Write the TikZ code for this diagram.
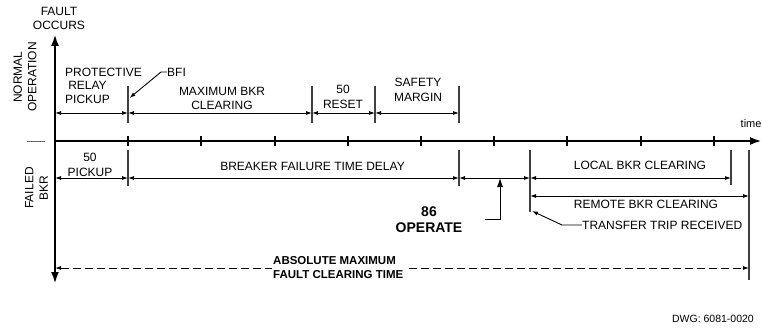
\documentclass[tikz,border=0pt]{standalone}
\usepackage{fontspec}
\setmainfont{Liberation Sans}
\usetikzlibrary{arrows.meta}
\begin{document}
\begin{tikzpicture}[x=1pt,y=-1pt,
  axisline/.style={line width=2.5pt,{Latex[length=12pt,width=8pt]}-{Latex[length=12pt,width=8pt]}},
  axisarrow/.style={line width=2.5pt,-{Latex[length=12pt,width=8pt]}},
  tickmark/.style={line width=1.1pt},
  dimline/.style={line width=0.9pt,{Latex[length=6pt,width=4pt]}-{Latex[length=6pt,width=4pt]}},
  dashdim/.style={line width=0.9pt,dash pattern=on 8pt off 4pt,{Latex[length=6pt,width=4pt]}-{Latex[length=6pt,width=4pt]}},
  extline/.style={line width=1.1pt,black!75},
  leader/.style={line width=0.9pt,-{Latex[length=6pt,width=4pt]}},
  bigleader/.style={line width=0.9pt,-{Latex[length=9pt,width=6pt]}},
  lbl/.style={font=\fontsize{12}{14.5}\selectfont,inner sep=0pt,align=center},
  boldlbl/.style={font=\fontsize{14}{16}\selectfont\bfseries,inner sep=0pt,align=center},
  abslbl/.style={font=\fontsize{11.5}{14}\selectfont\bfseries,inner sep=1.5pt,align=left,fill=white}
]
\useasboundingbox (0,0) rectangle (762,329);

% ---- axes
\coordinate (O) at (55,141);
\coordinate (Ytop) at (55,34);
\coordinate (Ybot) at (55,284);
\coordinate (Xend) at (762,141);
\draw[axisline] (Ybot) -- (Ytop);
\draw[axisarrow] (O) -- (Xend);
\foreach \x in {128,201,275,348,421,494,567,641,714}
  \draw[tickmark] (\x,136) -- (\x,146);
\draw[line width=1pt,black!60] (27,141) -- (45,141);

% ---- axis labels
\node[lbl] (fault) at (59,18.5) {FAULT\\OCCURS};
\node[lbl,rotate=90] (normal) at (25,77) {NORMAL\\OPERATION};
\node[lbl,rotate=90] (failed) at (36.5,188) {FAILED\\BKR};
\node[lbl,anchor=west,font=\fontsize{11}{13}\selectfont] (time) at (740.5,124) {time};

% ---- top section (normal operation)
\coordinate (a0) at (55,113);
\coordinate (a1) at (128,113);
\coordinate (a2) at (312,113);
\coordinate (a3) at (375,113);
\coordinate (a4) at (459,113);
\foreach \x in {128,312,375,459}
  \draw[extline] (\x,86) -- (\x,123);
\draw[dimline] (a0) -- (a1);
\draw[dimline] (a1) -- (a2);
\draw[dimline] (a2) -- (a3);
\draw[dimline] (a3) -- (a4);

\node[lbl,anchor=west] (prot) at (65,72) {PROTECTIVE};
\node[lbl] (relay) at (87.5,92.5) {RELAY\\PICKUP};
\node[lbl,anchor=west] (bfi) at (167,72) {BFI};
\coordinate (bfitip) at (129.5,98);
\draw[leader] (bfi.west) -- (161,72) -- (bfitip);
\node[lbl] (maxbkr) at (222,98.5) {MAXIMUM BKR\\CLEARING};
\node[lbl] (reset) at (343,97) {50\\RESET};
\node[lbl] (safety) at (418,90) {SAFETY\\MARGIN};

% ---- bottom section (failed breaker)
\coordinate (b0) at (55,178);
\coordinate (b1) at (128,178);
\coordinate (b2) at (459,178);
\coordinate (b3) at (530,178);
\coordinate (b4) at (731,178);
\coordinate (r0) at (530,196);
\coordinate (r1) at (749,196);
\draw[extline] (128,150) -- (128,186);
\draw[extline] (459,150) -- (459,186);
\draw[extline] (530,150) -- (530,212);
\draw[extline] (731,150) -- (731,185);
\draw[extline] (749,150) -- (749,280);
\draw[dimline] (b0) -- (b1);
\draw[dimline] (b1) -- (b2);
\draw[dimline] (b2) -- (b3);
\draw[dimline] (b3) -- (b4);
\draw[dimline] (r0) -- (r1);

\node[lbl] (pickup) at (90,165) {50\\PICKUP};
\node[lbl] (bftd) at (312.5,166) {BREAKER FAILURE TIME DELAY};
\node[lbl] (local) at (640,165) {LOCAL BKR CLEARING};
\node[lbl] (remote) at (646,204) {REMOTE BKR CLEARING};

\node[boldlbl] (op86) at (429,220) {86\\OPERATE};
\coordinate (op86tip) at (500,178);
\draw[bigleader] (485,219) -- (500,219) -- (op86tip);

\node[lbl,anchor=west] (tt) at (582,225) {TRANSFER TRIP RECEIVED};
\coordinate (tttip) at (532,211);
\draw[leader] (tt.west) -- (562,225) -- (tttip);

% ---- absolute maximum
\coordinate (c0) at (55,268);
\coordinate (c1) at (749,268);
\draw[dashdim] (c0) -- (c1);
\node[abslbl,anchor=west] (abs) at (271.5,268) {ABSOLUTE MAXIMUM\\FAULT CLEARING TIME};

\node[lbl,anchor=east,font=\fontsize{10.5}{12}\selectfont] (dwg) at (754,319) {DWG: 6081-0020};
\end{tikzpicture}
\end{document}
